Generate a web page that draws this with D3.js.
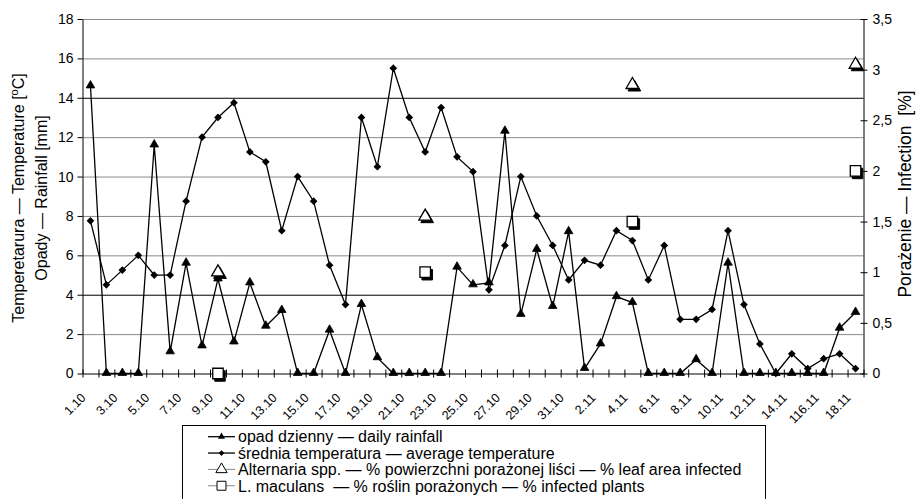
<!DOCTYPE html>
<meta charset="utf-8">
<style>
body{ margin:0; background:#fff; }
text{ font-family:"Liberation Sans", Arial, sans-serif; fill:#000; }
.axis text{ font-size:14px; }
.axis path, .axis line{ stroke:#000; }
.xlab{ font-size:12.5px; }
.legend text{ font-size:16px; white-space:pre; }
</style>
<body>
<script src="https://d3js.org/d3.v7.min.js"></script>
<script>

// ---------- data ------------
var days = ["1.10","2.10","3.10","4.10","5.10","6.10","7.10","8.10","9.10","10.10",
    "11.10","12.10","13.10","14.10","15.10","16.10","17.10","18.10","19.10","20.10",
    "21.10","22.10","23.10","24.10","25.10","26.10","27.10","28.10","29.10","30.10",
    "31.10","1.11","2.11","3.11","4.11","5.11","6.11","7.11","8.11","9.11",
    "10.11","11.11","12.11","13.11","14.11","15.11","16.11","17.11","18.11"];

// labels shown under the axis (every second day, as printed)
var tickLabels = ["1.10","3.10","5.10","7.10","9.10","11.10","13.10","15.10","17.10","19.10",
    "21.10","23.10","25.10","27.10","29.10","31.10","2.11","4.11","6.11","8.11",
    "10.11","12.11","14.11","116.11","18.11"];

var rainfall = [14.6,0,0,0,11.6,1.1,5.6,1.4,4.8,1.6,
    4.6,2.4,3.2,0,0,2.2,0,3.5,0.8,0,
    0,0,0,5.4,4.5,4.6,12.3,3,6.3,3.4,
    7.2,0.25,1.5,3.9,3.6,0,0,0,0.7,0,
    5.6,0,0,0,0,0,0,2.3,3.1];

var temperature = [7.75,4.5,5.25,6,5,5,8.75,12,13,13.75,
    11.25,10.75,7.25,10,8.75,5.5,3.5,13,10.5,15.5,
    13,11.25,13.5,11,10.25,4.25,6.5,10,8,6.5,
    4.75,5.75,5.5,7.25,6.75,4.75,6.5,2.75,2.75,3.25,
    7.25,3.5,1.5,0,1,0.25,0.75,1,0.25];

// infection assessments (right axis, %)
var alternariaDays = ["9.10","22.10","4.11","18.11"];
var alternaria = [1.0,1.55,2.85,3.05];
var maculansDays = ["9.10","22.10","4.11","18.11"];
var maculans = [0,1.0,1.5,2.0];

var leftTicks = [0,2,4,6,8,10,12,14,16,18];
var rightTicks = [0,0.5,1,1.5,2,2.5,3,3.5];

// ---------- chart ------------
var W = 917, H = 499;
var L = 82.5, R = 863.5, T = 19, B = 373.5;

var svg = d3.select("body").append("svg").attr("width", W).attr("height", H);

var x = d3.scaleBand().domain(days).range([L, R]).padding(0);
var xb = d3.scaleLinear().domain([0, days.length]).range([L, R]);
var y = d3.scaleLinear().domain([0, 18]).range([B, T]);
var y2 = d3.scaleLinear().domain([0, 3.5]).range([B, T]);

var cx = d => x(d) + x.bandwidth() / 2;

// gridlines
var grid = svg.append("g").attr("transform", "translate(" + L + ",0)")
    .call(d3.axisLeft(y).tickValues(leftTicks.slice(1)).tickSize(-(R - L)).tickFormat(""));
grid.select(".domain").remove();
grid.selectAll(".tick line")
    .attr("stroke", d => (d == 4 || d == 14) ? "#000" : "#8a8a8a");

// left axis
var ax = svg.append("g").attr("class", "axis").attr("transform", "translate(" + L + ",0)")
    .call(d3.axisLeft(y).tickValues(leftTicks).tickSize(5).tickSizeOuter(0).tickPadding(4));

// right axis
var ax2 = svg.append("g").attr("class", "axis").attr("transform", "translate(" + R + ",0)")
    .call(d3.axisRight(y2).tickValues(rightTicks).tickSize(4).tickSizeOuter(0).tickPadding(5)
        .tickFormat(d => String(d).replace(".", ",")));
ax2.selectAll(".tick line").attr("x1", -3);

// x axis, ticks between days
var axb = svg.append("g").attr("class", "axis").attr("transform", "translate(0," + B + ")")
    .call(d3.axisBottom(xb).tickValues(d3.range(days.length + 1)).tickSize(4).tickSizeOuter(0).tickFormat(""));
axb.selectAll(".tick line").attr("y1", -4);

// rotated date labels
svg.append("g").selectAll("text").data(tickLabels).join("text")
    .attr("class", "xlab")
    .attr("text-anchor", "end")
    .attr("transform", (d, i) => "translate(" + (cx(days[i * 2]) - 4) + "," + (B + 25) + ") rotate(-45)")
    .text(d => d);

// axis titles
var lt = svg.append("text").attr("transform", "translate(24,198) rotate(-90)")
    .attr("text-anchor", "middle").style("font-size", "16px");
lt.append("tspan").text("Temperetarura — Temperature [");
lt.append("tspan").attr("dy", -6).style("font-size", "11px").text("o");
lt.append("tspan").attr("dy", 6).text("C]");
svg.append("text").attr("transform", "translate(47,198) rotate(-90)")
    .attr("text-anchor", "middle").style("font-size", "16px")
    .text("Opady — Rainfall [mm]");
svg.append("text").attr("transform", "translate(911,194) rotate(-90)")
    .attr("text-anchor", "middle").style("font-size", "17.5px").style("white-space", "pre")
    .text("Porażenie — Infection  [%]");

// series lines
var line = d3.line().x((d, i) => cx(days[i])).y(d => y(d));

svg.append("path").datum(rainfall).attr("d", line)
    .attr("fill", "none").attr("stroke", "#000").attr("stroke-width", 1.3);
svg.append("path").datum(temperature).attr("d", line)
    .attr("fill", "none").attr("stroke", "#000").attr("stroke-width", 1.3);

var tri = d3.symbol(d3.symbolTriangle, 32);
var dia = d3.symbol(d3.symbolSquare, 30);

svg.append("g").selectAll("path").data(rainfall).join("path")
    .attr("d", tri).attr("fill", "#000").attr("stroke", "#000").attr("stroke-width", 0.8)
    .attr("transform", (d, i) => "translate(" + cx(days[i]) + "," + (y(d) - 0.5) + ")");
svg.append("g").selectAll("path").data(temperature).join("path")
    .attr("d", dia).attr("fill", "#000")
    .attr("transform", (d, i) => "translate(" + cx(days[i]) + "," + y(d) + ") rotate(45)");

// open markers with shadow (right axis)
var bigTri = d3.symbol(d3.symbolTriangle, 70);
var bigSq = d3.symbol(d3.symbolSquare, 110);

function openMarkers(sym, dd, vals) {
    var g = svg.append("g");
    g.selectAll(".sh").data(vals).join("path").attr("class", "sh")
        .attr("d", sym).attr("fill", "#000").attr("stroke", "#000")
        .attr("transform", (d, i) => "translate(" + (cx(dd[i]) + 2) + "," + (y2(d) + 2.5) + ")");
    g.selectAll(".fg").data(vals).join("path").attr("class", "fg")
        .attr("d", sym).attr("fill", "#fff").attr("stroke", "#000").attr("stroke-width", 1.3)
        .attr("transform", (d, i) => "translate(" + cx(dd[i]) + "," + y2(d) + ")");
}
openMarkers(bigTri, alternariaDays, alternaria);
openMarkers(bigSq, maculansDays, maculans);

// legend
var leg = svg.append("g").attr("class", "legend");
leg.append("rect").attr("x", 182.5).attr("y", 425.5).attr("width", 583).attr("height", 90)
    .attr("fill", "#fff").attr("stroke", "#000");

var legItems = [
    {label: "opad dzienny — daily rainfall", kind: "tri"},
    {label: "średnia temperatura — average temperature", kind: "dia"},
    {label: "Alternaria spp. — % powierzchni porażonej liści — % leaf area infected", kind: "otri"},
    {label: "L. maculans  — % roślin porażonych — % infected plants", kind: "osq"}
];
legItems.forEach(function (it, i) {
    var yy = 436.7 + i * 16.35;
    var open = it.kind.charAt(0) == "o";
    leg.append("line").attr("x1", 208).attr("x2", 235).attr("y1", yy).attr("y2", yy)
        .attr("stroke", open ? "#888" : "#000").attr("stroke-width", open ? 1 : 1.3);
    var m = leg.append("path").attr("transform", "translate(221.5," + yy + ")" + (it.kind == "dia" ? " rotate(45)" : ""));
    if (it.kind == "tri") m.attr("d", d3.symbol(d3.symbolTriangle, 22)).attr("fill", "#000");
    if (it.kind == "dia") m.attr("d", d3.symbol(d3.symbolSquare, 16)).attr("fill", "#000");
    if (it.kind == "otri") m.attr("d", d3.symbol(d3.symbolTriangle, 55)).attr("fill", "#fff").attr("stroke", "#000");
    if (it.kind == "osq") m.attr("d", d3.symbol(d3.symbolSquare, 80)).attr("fill", "#fff").attr("stroke", "#000");
    leg.append("text").attr("x", 238).attr("y", yy).attr("dy", "0.36em").text(it.label);
});

</script>
</body>
</html>
